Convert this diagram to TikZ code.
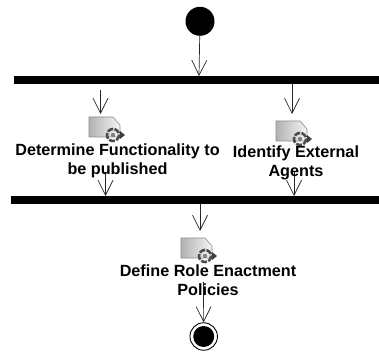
\documentclass[tikz,border=0pt]{standalone}
\usepackage{fontspec}
\setmainfont{Liberation Sans}
\usetikzlibrary{arrows.meta,calc}
\tikzset{
  px/.style={x=1pt,y=-1pt},
  flow/.style={draw=black!85,line width=0.7pt,-{Straight Barb[length=15pt,width=15pt,line width=0.7pt]}},
  barbox/.style={fill=black,draw=none,inner sep=0pt,minimum height=8pt},
  lbl/.style={font=\bfseries\fontsize{16.2}{19.2}\selectfont,align=center,inner sep=0pt,text=black},
  initial/.style={circle,fill=black,draw=none,minimum size=29pt,inner sep=0pt},
  finalin/.style={circle,fill=black,draw=none,minimum size=21pt,inner sep=0pt},
  finalout/.style={circle,draw=black,line width=0.9pt,fill=white,minimum size=27.5pt,inner sep=0pt},
  pics/task/.style={code={
    \path[left color=black!30,right color=black!4,draw=black!45,line width=0.6pt]
      (0,0) -- (24,0) -- (31,8) -- (31,20) -- (0,20) -- cycle;
    \draw[black!70,line width=2.6pt,dash pattern=on 6pt off 1.4pt] (24,18) circle (6);
    \fill[black!50] (24,18) circle (2.2);
    \fill[black!75] (36,18) -- (31,14) -- (31,22) -- cycle;
  }}
}
\begin{document}
\begin{tikzpicture}[px]
\useasboundingbox (0,0) rectangle (379,352);
\fill[white] (0,0) rectangle (379,352);
\node[initial] (start) at (200,21.3) {};
\node[barbox,minimum width=365pt] (forkbar) at (196.5,80) {};
\node[barbox,minimum width=368pt] (joinbar) at (195,200) {};
\pic at (89,117) {task};
\pic at (276,121) {task};
\pic at (181,238) {task};
\coordinate (forkleft) at (100.5,90);
\coordinate (taskonetop) at (100.5,114);
\coordinate (forkright) at (292,84);
\coordinate (tasktwotop) at (292,114);
\coordinate (taskoneout) at (105.5,172);
\coordinate (tasktwoout) at (294,172);
\coordinate (joinin) at (105.5,196);
\coordinate (joinintwo) at (294,196);
\coordinate (joinout) at (200,204);
\coordinate (taskthreetop) at (200,231);
\coordinate (taskthreeout) at (203.5,282);
\coordinate (forkin) at (199,76);
\draw[flow] (start) -- (forkin);
\draw[flow] (forkleft) -- (taskonetop);
\draw[flow] (forkright) -- (tasktwotop);
\draw[flow] (taskoneout) -- (joinin);
\draw[flow] (tasktwoout) -- (joinintwo);
\draw[flow] (joinout) -- (taskthreetop);
\node[finalout] (endout) at (203.7,336.5) {};
\node[finalin] (endin) at (203.7,336.5) {};
\draw[flow] (taskthreeout) -- (endout);
\node[lbl] (taskone) at (117.5,160.5) {Determine Functionality to\\be published};
\node[lbl] (tasktwo) at (296,162.5) {Identify External\\Agents};
\node[lbl] (taskthree) at (208,280) {Define Role Enactment\\Policies};
\end{tikzpicture}
\end{document}
